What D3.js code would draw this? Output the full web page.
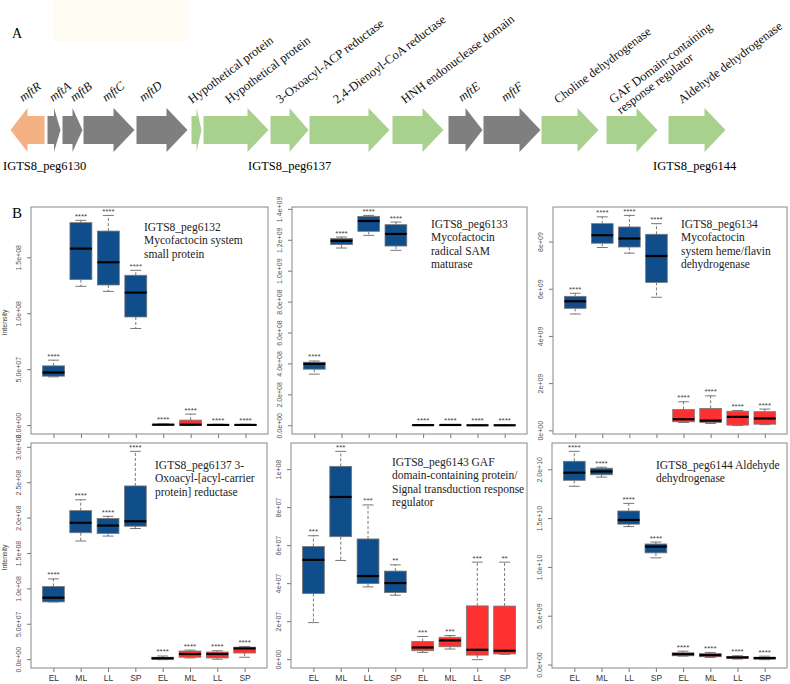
<!DOCTYPE html>
<html>
<head>
<meta charset="utf-8">
<script src="https://cdn.jsdelivr.net/npm/d3@7"></script>
<style>
  body { margin: 0; background: #fff; }
  svg text { font-family: "Liberation Serif", "Times New Roman", serif; }
  .sans { font-family: "Liberation Sans", Arial, sans-serif !important; }
</style>
</head>
<body>
<div id="fig"></div>
<script>
// ---- panel A: gene cluster ----
const geneNames = ['mftR', 'mftA', 'mftB', 'mftC', 'mftD', 'Hypothetical protein', 'Hypothetical protein',
  '3-Oxoacyl-ACP reductase', '2,4-Dienoyl-CoA reductase', 'HNH endonuclease domain', 'mftE', 'mftF',
  'Choline dehydrogenase', 'GAF Domain-containing|response regulator', 'Aldehyde dehydrogenase'];
const geneStart = [10, 47, 62, 83, 136, 191, 203, 270, 309, 392, 448, 483, 541, 606, 668];
const geneEnd = [45, 61, 83, 135, 188, 202, 269, 309, 390, 444, 483, 541, 599, 658, 726];
const geneStrand = [-1, 1, 1, 1, 1, 1, 1, 1, 1, 1, 1, 1, 1, 1, 1];
const geneType = ['reg', 'mft', 'mft', 'mft', 'mft', 'other', 'other', 'other', 'other', 'other',
  'mft', 'mft', 'other', 'other', 'other'];
const locusNames = ['IGTS8_peg6130', 'IGTS8_peg6137', 'IGTS8_peg6144'];
const locusPos = [3, 248, 653];

// ---- panel B: box plot statistics [lower whisker, Q1, median, Q3, upper whisker] ----
const groups = ['EL', 'ML', 'LL', 'SP', 'EL', 'ML', 'LL', 'SP'];

const peg6132 = [
  [4.36e7, 4.42e7, 4.75e7, 5.34e7, 5.85e7],
  [1.245e8, 1.305e8, 1.582e8, 1.814e8, 1.835e8],
  [1.20e8, 1.257e8, 1.46e8, 1.739e8, 1.879e8],
  [8.68e7, 9.71e7, 1.189e8, 1.344e8, 1.388e8],
  [2e5, 4e5, 8e5, 1.2e6, 1.5e6],
  [0, 3e5, 8e5, 4.9e6, 1.03e7],
  [1e5, 3e5, 6e5, 9e5, 1.2e6],
  [1e5, 3e5, 6e5, 9e5, 1.2e6]
];
const peg6133 = [
  [3.34e8, 3.66e8, 4.0e8, 4.11e8, 4.19e8],
  [1.150e9, 1.172e9, 1.196e9, 1.211e9, 1.221e9],
  [1.232e9, 1.258e9, 1.325e9, 1.355e9, 1.361e9],
  [1.135e9, 1.163e9, 1.241e9, 1.301e9, 1.318e9],
  [2e6, 3e6, 4e6, 6e6, 8e6],
  [2e6, 3e6, 5e6, 6e6, 8e6],
  [1e6, 2e6, 3e6, 5e6, 7e6],
  [1e6, 2e6, 3e6, 5e6, 6e6]
];
const peg6134 = [
  [4.95e9, 5.19e9, 5.49e9, 5.70e9, 5.83e9],
  [7.77e9, 7.95e9, 8.29e9, 8.78e9, 9.07e9],
  [7.53e9, 7.79e9, 8.15e9, 8.64e9, 9.13e9],
  [5.66e9, 6.29e9, 7.41e9, 8.33e9, 8.78e9],
  [3.5e8, 3.8e8, 4.9e8, 9.0e8, 1.23e9],
  [3.1e8, 3.5e8, 4.3e8, 9.5e8, 1.48e9],
  [2.2e8, 2.4e8, 5.9e8, 8.3e8, 8.6e8],
  [2.6e8, 2.8e8, 5.2e8, 8.1e8, 9.2e8]
];
const peg6137 = [
  [8.16e7, 8.16e7, 8.76e7, 1.033e8, 1.141e8],
  [1.676e8, 1.793e8, 1.933e8, 2.105e8, 2.258e8],
  [1.746e8, 1.783e8, 1.895e8, 1.993e8, 2.025e8],
  [1.853e8, 1.885e8, 1.955e8, 2.454e8, 2.943e8],
  [0, 3e5, 2.0e6, 3.4e6, 5.2e6],
  [2.4e6, 3.4e6, 8.0e6, 1.22e7, 1.35e7],
  [6e5, 2.4e6, 8.0e6, 1.08e7, 1.26e7],
  [3.4e6, 9.4e6, 1.59e7, 1.77e7, 1.87e7]
];
const peg6143 = [
  [1.95e7, 3.48e7, 5.25e7, 5.95e7, 6.52e7],
  [5.22e7, 6.47e7, 8.56e7, 1.017e8, 1.096e8],
  [3.83e7, 4.0e7, 4.4e7, 6.35e7, 8.14e7],
  [3.39e7, 3.53e7, 4.03e7, 4.66e7, 4.99e7],
  [3.8e6, 4.7e6, 6.4e6, 9.55e6, 1.22e7],
  [5.6e6, 6.8e6, 1.01e7, 1.18e7, 1.27e7],
  [0, 2.4e6, 5.2e6, 2.83e7, 5.13e7],
  [2.8e6, 3.0e6, 4.7e6, 2.82e7, 5.13e7]
];
const peg6144 = [
  [1.831e10, 1.892e10, 1.970e10, 2.087e10, 2.189e10],
  [1.925e10, 1.949e10, 1.983e10, 2.016e10, 2.026e10],
  [1.418e10, 1.443e10, 1.486e10, 1.578e10, 1.656e10],
  [1.098e10, 1.149e10, 1.213e10, 1.240e10, 1.260e10],
  [9.1e8, 9.5e8, 1.11e9, 1.256e9, 1.42e9],
  [7.8e8, 8.5e8, 1.01e9, 1.19e9, 1.29e9],
  [6.1e8, 6.8e8, 7.8e8, 8.8e8, 9.5e8],
  [5.5e8, 6.1e8, 7.1e8, 8.1e8, 9.1e8]
];

const stars4 = ['****', '****', '****', '****', '****', '****', '****', '****'];
const stars6143 = ['***', '***', '***', '**', '***', '***', '***', '**'];

const ticks6132 = [0, 5e7, 1e8, 1.5e8];
const ticks6133 = [0, 2e8, 4e8, 6e8, 8e8, 1e9, 1.2e9, 1.4e9];
const ticks6134 = [0, 2e9, 4e9, 6e9, 8e9];
const ticks6137 = [0, 5e7, 1e8, 1.5e8, 2e8, 2.5e8, 3e8];
const ticks6143 = [0, 2e7, 4e7, 6e7, 8e7, 1e8];
const ticks6144 = [0, 5e9, 1e10, 1.5e10, 2e10];

// layout of the six plots
var panels = [
  { stats: peg6132, stars: stars4, ticks: ticks6132, dec: 1, x0: 31, x1: 268, y0: 207, y1: 434,
    text: ['IGTS8_peg6132', 'Mycofactocin system', 'small protein'], tx: 144, ty: 231, xlab: false, ylab: true },
  { stats: peg6133, stars: stars4, ticks: ticks6133, dec: 1, x0: 292, x1: 527, y0: 207, y1: 434,
    text: ['IGTS8_peg6133', 'Mycofactocin', 'radical SAM', 'maturase'], tx: 431, ty: 228, xlab: false },
  { stats: peg6134, stars: stars4, ticks: ticks6134, dec: 0, x0: 553, x1: 787, y0: 207, y1: 434,
    text: ['IGTS8_peg6134', 'Mycofactocin', 'system heme/flavin', 'dehydrogenase'], tx: 681, ty: 228, xlab: false },
  { stats: peg6137, stars: stars4, ticks: ticks6137, dec: 1, x0: 31, x1: 267, y0: 443, y1: 668,
    text: ['IGTS8_peg6137 3-', 'Oxoacyl-[acyl-carrier', 'protein] reductase'], tx: 155, ty: 469, xlab: true, ylab: true },
  { stats: peg6143, stars: stars6143, ticks: ticks6143, dec: 0, x0: 291, x1: 527, y0: 443, y1: 668,
    text: ['IGTS8_peg6143 GAF', 'domain-containing protein/', 'Signal transduction response', 'regulator'], tx: 392, ty: 466, xlab: true },
  { stats: peg6144, stars: stars4, ticks: ticks6144, dec: 1, x0: 552, x1: 787, y0: 443, y1: 668,
    text: ['IGTS8_peg6144 Aldehyde', 'dehydrogenase'], tx: 656, ty: 469, xlab: true }
];

var geneColor = { reg: '#F4B183', mft: '#7F7F7F', other: '#A9D18E' };
var labelDx = [13, 6, 12, 23, 7, 1, 26, 10, 28, 13, 14, 22, 17, 7, 14];

var svg = d3.select('#fig').append('svg')
    .attr('width', 790)
    .attr('height', 684);

// faint highlight behind the top of the figure
svg.append('rect').attr('x', 53).attr('y', 0).attr('width', 135).attr('height', 42).attr('fill', '#fffdf3');

svg.append('text').attr('x', 12).attr('y', 38).attr('font-size', 14).text('A');
svg.append('text').attr('x', 12).attr('y', 218).attr('font-size', 15).text('B');

// gene arrows
var gx = d3.scaleLinear().domain([0, 790]).range([0, 790]);
var yc = 130, shaftH = 14, headH = 22;

function arrowPath(s, e, strand) {
  var len = e - s, h = Math.min(21, len * 0.5);
  var a = gx(s), b = gx(e);
  if (strand > 0) {
    return 'M' + a + ',' + (yc - shaftH) + ' L' + (b - h) + ',' + (yc - shaftH) + ' L' + (b - h) + ',' + (yc - headH) +
      ' L' + b + ',' + yc + ' L' + (b - h) + ',' + (yc + headH) + ' L' + (b - h) + ',' + (yc + shaftH) +
      ' L' + a + ',' + (yc + shaftH) + ' Z';
  }
  return 'M' + b + ',' + (yc - shaftH) + ' L' + (a + h) + ',' + (yc - shaftH) + ' L' + (a + h) + ',' + (yc - headH) +
    ' L' + a + ',' + yc + ' L' + (a + h) + ',' + (yc + headH) + ' L' + (a + h) + ',' + (yc + shaftH) +
    ' L' + b + ',' + (yc + shaftH) + ' Z';
}

var genes = svg.append('g');
geneNames.forEach(function(name, i) {
  genes.append('path')
    .attr('d', arrowPath(geneStart[i] + 0.5, geneEnd[i] - 0.5, geneStrand[i]))
    .attr('fill', geneColor[geneType[i]]);

  var isMft = name.indexOf('mft') === 0;
  var t = genes.append('text')
    .attr('transform', 'translate(' + gx(geneStart[i] + labelDx[i]) + ',' + (isMft ? 102 : 104) + ') rotate(-37)')
    .attr('font-size', 12.5)
    .attr('font-style', isMft ? 'italic' : null)
    .attr('fill', '#111');
  name.split('|').forEach(function(line, k) {
    t.append('tspan').attr('x', 0).attr('dy', k === 0 ? 0 : 13).text(line);
  });
});

locusNames.forEach(function(name, i) {
  svg.append('text').attr('x', locusPos[i]).attr('y', 170).attr('font-size', 12.5).text(name);
});

// box plots
function sci(v, dec) {
  return v.toExponential(dec).replace(/e([+-])(\d)$/, 'e$10$2');
}

var fill = d3.scaleOrdinal().domain([0, 1]).range(['#104E8B', '#FF3030']);

panels.forEach(function(p) {
  var g = svg.append('g');
  var lo = d3.min(p.stats, function(d) { return d[0]; });
  var hi = d3.max(p.stats, function(d) { return d[4]; });
  var pad = (hi - lo) * 0.04;

  var x = d3.scaleLinear().domain([0.18, 8.82]).range([p.x0, p.x1]);
  var y = d3.scaleLinear().domain([lo - pad, hi + pad]).range([p.y1, p.y0]);
  var bw = x(1.4) - x(0.6);

  // y axis
  var yAxis = g.append('g')
    .attr('transform', 'translate(' + p.x0 + ',0)')
    .call(d3.axisLeft(y).tickValues(p.ticks).tickSize(4).tickFormat(function(d) { return sci(d, p.dec); }));
  yAxis.select('.domain').remove();
  yAxis.selectAll('line').attr('stroke', '#777');
  yAxis.selectAll('text')
    .attr('class', 'sans')
    .attr('font-size', 7)
    .attr('fill', '#555')
    .attr('text-anchor', 'middle')
    .attr('x', 0).attr('dy', 0)
    .attr('transform', function(d) { return 'translate(-10,' + y(d) + ') rotate(-90)'; })
    .attr('y', 0);
  yAxis.selectAll('.tick').attr('transform', null);
  yAxis.selectAll('.tick line').attr('y1', function(d) { return y(d); }).attr('y2', function(d) { return y(d); });

  // x axis
  var xAxis = g.append('g')
    .attr('transform', 'translate(0,' + p.y1 + ')')
    .call(d3.axisBottom(x).tickValues(d3.range(1, 9)).tickSize(4)
      .tickFormat(function(d) { return p.xlab ? groups[d - 1] : ''; }));
  xAxis.select('.domain').remove();
  xAxis.selectAll('line').attr('stroke', '#777');
  xAxis.selectAll('text').attr('class', 'sans').attr('font-size', 8.5).attr('fill', '#333').attr('dy', 0).attr('y', 13);

  // frame
  g.append('rect')
    .attr('x', p.x0).attr('y', p.y0)
    .attr('width', p.x1 - p.x0).attr('height', p.y1 - p.y0)
    .attr('fill', 'none').attr('stroke', '#888').attr('stroke-width', 1);

  p.stats.forEach(function(s, i) {
    var cx = x(i + 1);
    // whiskers
    g.append('line').attr('x1', cx).attr('x2', cx).attr('y1', y(s[3])).attr('y2', y(s[4]))
      .attr('stroke', '#555').attr('stroke-width', 0.8).attr('stroke-dasharray', '3,2');
    g.append('line').attr('x1', cx).attr('x2', cx).attr('y1', y(s[1])).attr('y2', y(s[0]))
      .attr('stroke', '#555').attr('stroke-width', 0.8).attr('stroke-dasharray', '3,2');
    [s[0], s[4]].forEach(function(v) {
      g.append('line').attr('x1', cx - bw / 4).attr('x2', cx + bw / 4).attr('y1', y(v)).attr('y2', y(v))
        .attr('stroke', '#555').attr('stroke-width', 0.8);
    });
    // box
    g.append('rect')
      .attr('x', cx - bw / 2).attr('width', bw)
      .attr('y', y(s[3])).attr('height', Math.max(0.5, y(s[1]) - y(s[3])))
      .attr('fill', fill(i < 4 ? 0 : 1))
      .attr('stroke', '#777').attr('stroke-width', 0.8);
    // median
    g.append('line').attr('x1', cx - bw / 2).attr('x2', cx + bw / 2).attr('y1', y(s[2])).attr('y2', y(s[2]))
      .attr('stroke', '#000').attr('stroke-width', 2.2);
    // significance
    g.append('text')
      .attr('class', 'sans')
      .attr('x', cx).attr('y', y(s[4]) - 1.5)
      .attr('text-anchor', 'middle')
      .attr('font-size', 8)
      .attr('fill', '#444')
      .text(p.stars[i]);
  });

  var t = g.append('text').attr('x', p.tx).attr('y', p.ty).attr('font-size', 11.5).attr('fill', '#222');
  p.text.forEach(function(line, k) {
    t.append('tspan').attr('x', p.tx).attr('dy', k === 0 ? 0 : 13.3).text(line);
  });

  if (p.ylab) {
    g.append('text')
      .attr('class', 'sans')
      .attr('transform', 'translate(7,' + ((p.y0 + p.y1) / 2 + 2) + ') rotate(-90)')
      .attr('text-anchor', 'middle')
      .attr('font-size', 7)
      .attr('fill', '#444')
      .text('Intensity');
  }
});
</script>
</body>
</html>
